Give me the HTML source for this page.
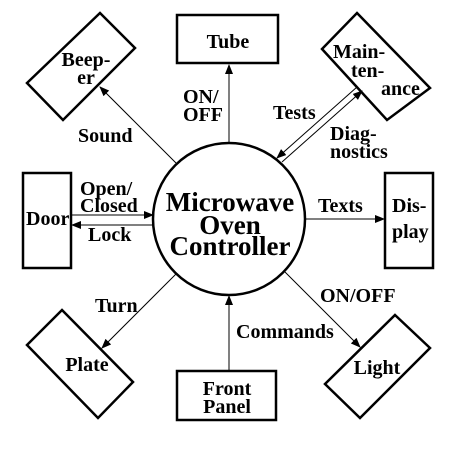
<!DOCTYPE html>
<html><head><style>html,body{margin:0;padding:0;background:#fff}</style></head>
<body>
<svg width="461" height="449" xmlns="http://www.w3.org/2000/svg" font-family="Liberation Serif, serif" font-weight="bold">
<defs>
<marker id="a" markerWidth="10" markerHeight="8" refX="9" refY="4" orient="auto" markerUnits="userSpaceOnUse">
<path d="M0,0 L10,4 L0,8 z" fill="#000"/></marker>
</defs>
<rect width="461" height="449" fill="#fff"/>
<g fill="none" stroke="#000" stroke-width="2.5">
<circle cx="229" cy="219" r="76"/>
<rect x="177" y="15" width="101" height="48"/>
<rect x="23" y="173" width="48" height="95"/>
<rect x="385" y="173" width="48" height="95"/>
<rect x="177" y="371" width="99" height="49"/>
<polygon points="100,13 135,48 63,120 27,83"/>
<polygon points="357,13 430,88 387,120 322,49"/>
<polygon points="62,310 133,382 98,418 27,345"/>
<polygon points="395,315 430,348 360,418 325,384"/>
</g>
<g stroke="#000" stroke-width="1" fill="none">
<line x1="229" y1="143" x2="229" y2="65" marker-end="url(#a)"/>
<line x1="176" y1="163" x2="100" y2="87" marker-end="url(#a)"/>
<line x1="282" y1="162" x2="362" y2="91" marker-end="url(#a)"/>
<line x1="357" y1="87" x2="277" y2="158" marker-end="url(#a)"/>
<line x1="71" y1="215" x2="153" y2="215" marker-end="url(#a)"/>
<line x1="153" y1="225" x2="72" y2="225" marker-end="url(#a)"/>
<line x1="305" y1="219" x2="384" y2="219" marker-end="url(#a)"/>
<line x1="177" y1="273" x2="102" y2="348" marker-end="url(#a)"/>
<line x1="285" y1="272" x2="360" y2="347" marker-end="url(#a)"/>
<line x1="229" y1="370" x2="229" y2="296" marker-end="url(#a)"/>
</g>
<g font-size="20" fill="#000">
<text x="228" y="48" text-anchor="middle">Tube</text>
<text x="86" y="66" text-anchor="middle">Beep-</text>
<text x="86" y="84" text-anchor="middle">er</text>
<text x="333" y="58">Main-</text>
<text x="351" y="77">ten-</text>
<text x="381" y="95">ance</text>
<text x="183" y="103">ON/</text>
<text x="183" y="121">OFF</text>
<text x="273" y="119">Tests</text>
<text x="330" y="140">Diag-</text>
<text x="330" y="158">nostics</text>
<text x="78" y="142">Sound</text>
<text x="80" y="195">Open/</text>
<text x="80" y="212">Closed</text>
<text x="88" y="241">Lock</text>
<text x="26" y="225">Door</text>
<text x="318" y="212">Texts</text>
<text x="392" y="212">Dis-</text>
<text x="392" y="238">play</text>
<text x="95" y="312">Turn</text>
<text x="320" y="302">ON/OFF</text>
<text x="236" y="338">Commands</text>
<text x="87" y="371" text-anchor="middle">Plate</text>
<text x="377" y="374" text-anchor="middle">Light</text>
<text x="227" y="395" text-anchor="middle">Front</text>
<text x="227" y="413" text-anchor="middle">Panel</text>
</g>
<g font-size="27" fill="#000" text-anchor="middle">
<text x="230" y="211">Microwave</text>
<text x="230" y="234">Oven</text>
<text x="230" y="255">Controller</text>
</g>
</svg>
</body></html>
